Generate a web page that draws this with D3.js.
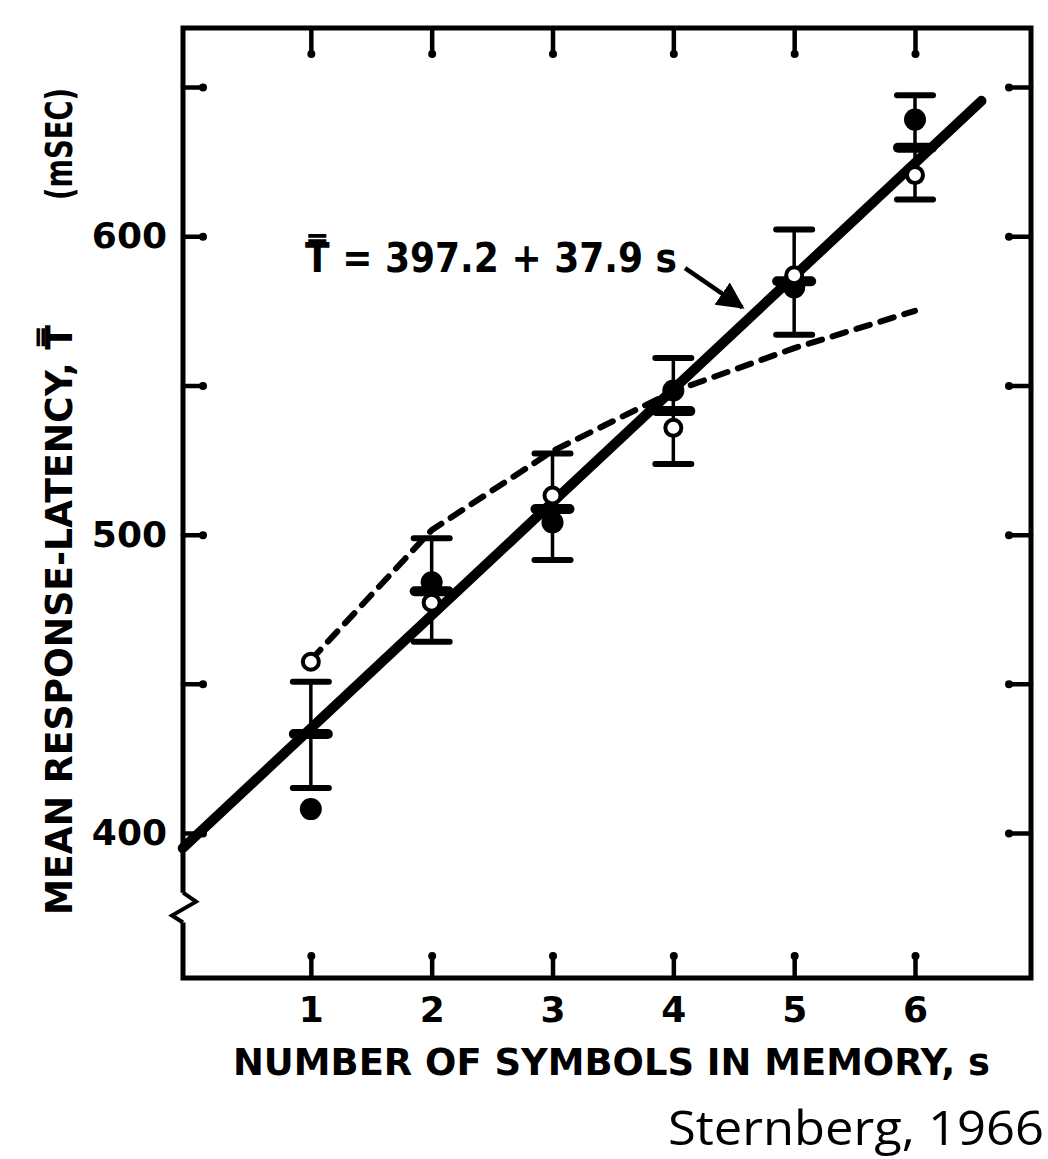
<!DOCTYPE html>
<html>
<head>
<meta charset="utf-8">
<script src="https://cdn.jsdelivr.net/npm/d3@7"></script>
<style>
  body { margin: 0; background: #fff; }
  svg { display: block; }
  text { font-family: 'DejaVu Sans', sans-serif; font-weight: bold; fill: #000; }
</style>
</head>
<body>
<div id="chart"></div>
<script>
// values
const setSizes = [1, 2, 3, 4, 5, 6]
const upperCap = [450.7, 498.8, 527.2, 559.2, 602.3, 647.3]
const lowerCap = [415.1, 464.1, 491.5, 523.7, 567.0, 612.3]
const meanLatency = [433.2, 481.0, 508.6, 541.4, 584.9, 629.7]
const openPoints = [457.4, 477.2, 513.1, 535.8, 586.9, 620.5]
const filledPoints = [408.0, 484.0, 504.1, 548.3, 582.8, 639.1]
const dashedCurve = [458.0, 501.5, 528.0, 548.0, 562.5, 575.0]
const fitLine = [[-0.06, 394.9], [6.55, 645.4]]
const yTicks = [400, 450, 500, 550, 600, 650]
const yLabels = [400, 500, 600]

const width = 1048
const height = 1159

const svg = d3.select('#chart').append('svg')
  .attr('width', width)
  .attr('height', height)

// scales (domain = edges of the frame)
const x = d3.scaleLinear().domain([-0.058, 6.96]).range([183, 1031])
const y = d3.scaleLinear().domain([351.4, 669.8]).range([978, 28])

const [x0, x1] = x.range()
const [y0, y1] = y.range()
const ink = '#000'

// axes: ticks point inward
const tickBlob = (g) => {
  g.select('.domain').remove()
  g.selectAll('.tick line').attr('stroke', ink).attr('stroke-width', 4.5).attr('stroke-linecap', 'round')
}

svg.append('g')
  .attr('transform', `translate(${x0},0)`)
  .call(d3.axisLeft(y).tickValues(yTicks).tickSizeInner(-20).tickSizeOuter(0).tickPadding(16)
    .tickFormat((d) => (yLabels.includes(d) ? d : '')))
  .call(tickBlob)
  .call((g) => g.selectAll('text').style('font-size', '36px').attr('fill', ink))

svg.append('g')
  .attr('transform', `translate(${x1},0)`)
  .call(d3.axisRight(y).tickValues(yTicks).tickSizeInner(-22).tickSizeOuter(0).tickFormat(''))
  .call(tickBlob)

svg.append('g')
  .attr('transform', `translate(0,${y0})`)
  .call(d3.axisBottom(x).tickValues(setSizes).tickSizeInner(-22).tickSizeOuter(0).tickPadding(18)
    .tickFormat(d3.format('d')))
  .call(tickBlob)
  .call((g) => g.selectAll('text').style('font-size', '36px').attr('fill', ink))

svg.append('g')
  .attr('transform', `translate(0,${y1})`)
  .call(d3.axisTop(x).tickValues(setSizes).tickSizeInner(-26).tickSizeOuter(0).tickFormat(''))
  .call(tickBlob)

// blobs at the inner end of every tick
svg.selectAll('.tick line').each(function () {
  const l = d3.select(this)
  d3.select(this.parentNode).append('circle')
    .attr('cx', +l.attr('x2') || 0)
    .attr('cy', +l.attr('y2') || 0)
    .attr('r', 4)
    .attr('fill', ink)
})

// frame, with a break in the left side
const breakTop = y(380)
const breakBot = y(370)
const frame = svg.append('g').attr('fill', 'none').attr('stroke', ink).attr('stroke-width', 5)
frame.append('path')
  .attr('d', `M${x0},${breakTop} L${x0},${y1} L${x1},${y1} L${x1},${y0} L${x0},${y0} L${x0},${breakBot}`)
frame.append('path')
  .attr('stroke-width', 4)
  .attr('d', `M${x0},${breakTop} L${x0 + 13},${breakTop + 9} L${x0 - 11},${breakBot - 7} L${x0},${breakBot}`)

// dashed curve
svg.append('path')
  .datum(setSizes.map((s, i) => [s, dashedCurve[i]]))
  .attr('fill', 'none')
  .attr('stroke', ink)
  .attr('stroke-width', 6)
  .attr('stroke-dasharray', '14,11')
  .attr('stroke-linecap', 'round')
  .attr('d', d3.line().x((d) => x(d[0])).y((d) => y(d[1])))

// fitted line
svg.append('path')
  .datum(fitLine)
  .attr('fill', 'none')
  .attr('stroke', ink)
  .attr('stroke-width', 10)
  .attr('stroke-linecap', 'round')
  .attr('d', d3.line().x((d) => x(d[0])).y((d) => y(d[1])))

// error bars
const bars = svg.append('g')
  .attr('stroke', ink)
  .attr('stroke-linecap', 'round')

bars.selectAll('line.stem')
  .data(setSizes)
  .join('line')
  .attr('class', 'stem')
  .attr('x1', (d) => x(d)).attr('x2', (d) => x(d))
  .attr('y1', (d, i) => y(upperCap[i])).attr('y2', (d, i) => y(lowerCap[i]))
  .attr('stroke-width', 3.5)

const caps = setSizes.flatMap((s, i) => [[s, upperCap[i]], [s, lowerCap[i]]])
bars.selectAll('line.cap')
  .data(caps)
  .join('line')
  .attr('class', 'cap')
  .attr('x1', (d) => x(d[0]) - 18).attr('x2', (d) => x(d[0]) + 18)
  .attr('y1', (d) => y(d[1])).attr('y2', (d) => y(d[1]))
  .attr('stroke-width', 6)

// mean marks
bars.selectAll('line.mean')
  .data(setSizes)
  .join('line')
  .attr('class', 'mean')
  .attr('x1', (d) => x(d) - 17).attr('x2', (d) => x(d) + 17)
  .attr('y1', (d, i) => y(meanLatency[i])).attr('y2', (d, i) => y(meanLatency[i]))
  .attr('stroke-width', 10)

// filled points
svg.append('g').selectAll('circle')
  .data(setSizes)
  .join('circle')
  .attr('cx', (d) => x(d))
  .attr('cy', (d, i) => y(filledPoints[i]))
  .attr('r', 11)
  .attr('fill', ink)

// open points
svg.append('g').selectAll('circle')
  .data(setSizes)
  .join('circle')
  .attr('cx', (d) => x(d))
  .attr('cy', (d, i) => y(openPoints[i]))
  .attr('r', 8)
  .attr('fill', '#fff')
  .attr('stroke', ink)
  .attr('stroke-width', 4)

// equation and arrow
svg.append('text')
  .attr('x', x(0.952))
  .attr('y', y(588))
  .attr('textLength', 372)
  .attr('lengthAdjust', 'spacingAndGlyphs')
  .style('font-size', '41px')
  .text('T\u033F = 397.2 + 37.9 s')

const arrowFrom = [4.097, 589.3]
const arrowTo = [4.57, 576.2]
svg.append('defs').append('marker')
  .attr('id', 'head')
  .attr('viewBox', '0 0 10 10')
  .attr('refX', 9).attr('refY', 5)
  .attr('markerWidth', 6).attr('markerHeight', 6)
  .attr('orient', 'auto')
  .append('path').attr('d', 'M0,0 L10,5 L0,10 Z').attr('fill', ink)
svg.append('line')
  .attr('x1', x(arrowFrom[0])).attr('y1', y(arrowFrom[1]))
  .attr('x2', x(arrowTo[0])).attr('y2', y(arrowTo[1]))
  .attr('stroke', ink).attr('stroke-width', 4.5)
  .attr('marker-end', 'url(#head)')

// axis titles
svg.append('text')
  .attr('x', 233)
  .attr('y', 1075)
  .attr('textLength', 757)
  .attr('lengthAdjust', 'spacingAndGlyphs')
  .style('font-size', '37px')
  .text('NUMBER OF SYMBOLS IN MEMORY, s')

svg.append('text')
  .attr('transform', 'translate(72,915) rotate(-90)')
  .attr('textLength', 590)
  .attr('lengthAdjust', 'spacingAndGlyphs')
  .style('font-size', '38px')
  .text('MEAN RESPONSE-LATENCY, T\u033F')

svg.append('text')
  .attr('transform', 'translate(72,200) rotate(-90)')
  .attr('textLength', 112)
  .attr('lengthAdjust', 'spacingAndGlyphs')
  .style('font-size', '38px')
  .text('(mSEC)')

// source
svg.append('text')
  .attr('x', 668)
  .attr('y', 1145)
  .attr('textLength', 376)
  .attr('lengthAdjust', 'spacingAndGlyphs')
  .style('font-family', "'Open Sans', sans-serif")
  .style('font-weight', 'normal')
  .style('font-size', '47px')
  .text('Sternberg, 1966')
</script>
</body>
</html>
